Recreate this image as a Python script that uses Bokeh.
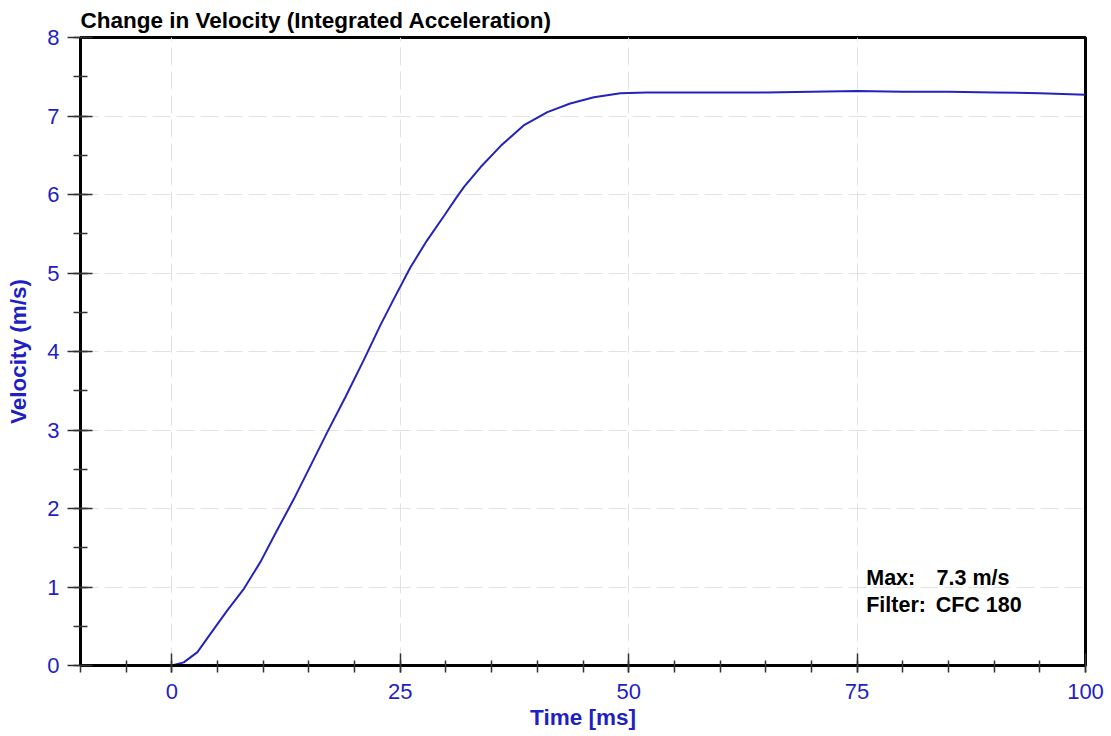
from bokeh.plotting import figure
from bokeh.models import Range1d, FixedTicker, Label
from bokeh.embed import file_html
from bokeh.resources import INLINE

# ---- data ----
time_ms = [0, 1.3, 2.8, 4.2, 6.05, 7.9, 9.7, 11.5, 13.35, 15.2, 17.0, 19.0,
           21.0, 22.8, 24.3, 26.1, 27.9, 29.8, 31.2, 32.0, 33.8, 36.0, 38.5,
           41.1, 43.6, 46.2, 49.1, 52.0, 55.0, 60, 65, 70, 75, 80, 85, 90, 95,
           100]
velocity = [0, 0.04, 0.17, 0.40, 0.70, 0.98, 1.32, 1.72, 2.12, 2.55, 2.97, 3.42,
            3.89, 4.33, 4.67, 5.07, 5.41, 5.73, 5.97, 6.10, 6.35, 6.62, 6.88,
            7.05, 7.16, 7.24, 7.29, 7.30, 7.30, 7.30, 7.30, 7.31, 7.32, 7.31,
            7.31, 7.30, 7.29, 7.27]
x_ticks = [0, 25, 50, 75, 100]
y_ticks = [0, 1, 2, 3, 4, 5, 6, 7, 8]
max_value = 7.3
filter_name = "CFC 180"

FONT = "Liberation Sans"
BLUE = "#1f1fc2"
LINE_BLUE = "#2424b8"

p = figure(frame_width=1005, frame_height=628,
           x_range=Range1d(-10, 100), y_range=Range1d(0, 8),
           output_backend="svg", toolbar_location=None,
           min_border_left=80, min_border_right=23,
           min_border_top=37, min_border_bottom=0,
           background_fill_color="white", border_fill_color="white")

p.title.text = "Change in Velocity (Integrated Acceleration)"
p.title.text_font = FONT
p.title.text_font_size = "22.5px"
p.title.text_font_style = "bold"
p.title.text_color = "black"
p.title.align = "left"
p.title.standoff = 9
p.title.offset = 0

p.outline_line_color = "black"
p.outline_line_width = 3
p.outline_line_alpha = 1

# axes
xa = p.xaxis[0]
ya = p.yaxis[0]
xa.ticker = FixedTicker(ticks=x_ticks, minor_ticks=list(range(-10, 101, 5)))
ya.ticker = FixedTicker(ticks=y_ticks, minor_ticks=[v / 2 for v in range(0, 17)])

for ax in (xa, ya):
    ax.axis_line_color = "black"
    ax.axis_line_width = 3
    ax.major_tick_line_color = "#333333"
    ax.minor_tick_line_color = "#333333"
    ax.major_tick_line_width = 1.5
    ax.minor_tick_line_width = 1.5
    ax.major_label_text_font = FONT
    ax.major_label_text_font_size = "22px"
    ax.major_label_text_color = BLUE
    ax.axis_label_text_font = FONT
    ax.axis_label_text_font_size = "22.5px"
    ax.axis_label_text_font_style = "bold"
    ax.axis_label_text_color = BLUE

xa.axis_label = "Time [ms]"
xa.major_tick_in = 12
xa.major_tick_out = 7
xa.minor_tick_in = 5
xa.minor_tick_out = 7
xa.major_label_standoff = 11
xa.axis_label_standoff = 3

ya.axis_label = "Velocity (m/s)"
ya.major_tick_in = 12
ya.major_tick_out = 13
ya.minor_tick_in = 7
ya.minor_tick_out = 7
ya.major_label_standoff = 8
ya.axis_label_standoff = 13

# grid
p.xgrid.ticker = FixedTicker(ticks=x_ticks)
p.ygrid.ticker = FixedTicker(ticks=y_ticks)
for g in (p.xgrid[0], p.ygrid[0]):
    g.grid_line_color = "#e2e2e2"
    g.grid_line_width = 1
    g.grid_line_dash = "18 6"

# curve
p.line(time_ms, velocity, line_color=LINE_BLUE, line_width=2)

# annotation
for txt, x, y in [("Max:", 76, 1.115), (f"{max_value} m/s", 83.7, 1.115),
                  ("Filter:", 76, 0.77), (filter_name, 83.6, 0.77)]:
    p.add_layout(Label(x=x, y=y, text=txt, text_font=FONT, text_font_size="21.5px",
                       text_font_style="bold", text_color="black",
                       text_baseline="alphabetic", text_align="left"))

open("out.html", "w").write(file_html(p, INLINE))
